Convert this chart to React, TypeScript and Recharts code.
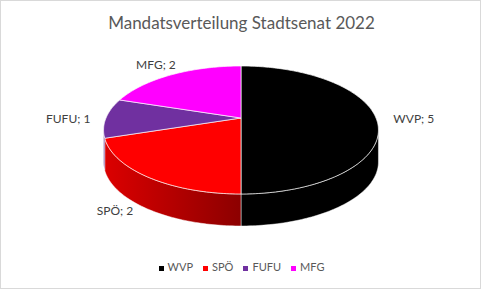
import { PieChart, Pie, Cell, Legend } from 'recharts';

const parties = ['WVP', 'SPÖ', 'FUFU', 'MFG'];
const seats = [5, 2, 1, 2];
const colors = ['#000000', '#ff0000', '#7030a0', '#ff00ff'];

const data = parties.map((name, i) => ({ name, value: seats[i] }));

// fake 3D: the disc is drawn with a simple perspective projection
const RX = 135;
const RY = 61.75;
const PERSP = 0.1875;
const DEPTH = 32;
const SIDE_EDGE = (Math.asin(PERSP) * 180) / Math.PI;
const FONT = 'Lato, "Open Sans", sans-serif';

function project(cx: number, cy: number, deg: number, r = 1, dy = 0): [number, number] {
  const t = (deg * Math.PI) / 180;
  const u = Math.cos(t) * r;
  const v = Math.sin(t) * r;
  const w = 1 + PERSP * v;
  return [cx + (RX * u) / w, cy - (RY * v) / w + dy];
}

function arcPoints(cx: number, cy: number, a: number, b: number, dy = 0) {
  const n = Math.max(2, Math.ceil(Math.abs(b - a)));
  const pts: [number, number][] = [];
  for (let i = 0; i <= n; i++) pts.push(project(cx, cy, a + ((b - a) * i) / n, 1, dy));
  return pts;
}

const toPath = (pts: [number, number][]) =>
  pts.map((p, i) => `${i ? 'L' : 'M'}${p[0].toFixed(2)},${p[1].toFixed(2)}`).join('');

function shade(hex: string, f: number) {
  const n = parseInt(hex.slice(1), 16);
  const c = [(n >> 16) & 255, (n >> 8) & 255, n & 255].map((x) => Math.round(x * f));
  return `rgb(${c.join(',')})`;
}

const renderSlice = (props: any) => {
  const { cx, cy, startAngle, endAngle, midAngle, index } = props;
  const fill = colors[index];
  const lo = Math.min(startAngle, endAngle);
  const hi = Math.max(startAngle, endAngle);

  // visible part of the side wall (front half of the disc)
  const sides: [number, number][] = [];
  for (const k of [-360, 0, 360]) {
    const a = Math.max(lo + k, -180 + SIDE_EDGE);
    const b = Math.min(hi + k, -SIDE_EDGE);
    if (b > a) sides.push([a, b]);
  }
  const gid = `side-grad-${index}`;
  const top = toPath([[cx, cy], ...arcPoints(cx, cy, startAngle, endAngle)]) + 'Z';

  const s = Math.sin((midAngle * Math.PI) / 180);
  const [lx, ly0] = project(cx, cy, midAngle, 1.28);
  const ly = ly0 + (s < 0 ? DEPTH * 0.5 * -s : 0);

  return (
    <g key={`slice-${index}`}>
      <defs>
        <linearGradient id={gid} gradientUnits="userSpaceOnUse" x1={cx - RX} y1={0} x2={cx + RX} y2={0}>
          <stop offset="0%" stopColor={shade(fill, 0.86)} />
          <stop offset="50%" stopColor={shade(fill, 0.55)} />
          <stop offset="100%" stopColor={shade(fill, 0.45)} />
        </linearGradient>
      </defs>
      {sides.map(([a, b], j) => {
        const pts = [...arcPoints(cx, cy, a, b), ...arcPoints(cx, cy, b, a, DEPTH)];
        return (
          <path
            key={j}
            d={toPath(pts) + 'Z'}
            fill={`url(#${gid})`}
            stroke="#ffffff"
            strokeOpacity={0.6}
            strokeWidth={0.8}
          />
        );
      })}
      <path d={top} fill={fill} stroke="#ffffff" strokeOpacity={0.75} strokeWidth={0.9} />
      <text
        x={lx}
        y={ly}
        textAnchor="middle"
        dominantBaseline="central"
        fill="#404040"
        fontSize={12}
        fontFamily={FONT}
      >
        {`${parties[index]}; ${seats[index]}`}
      </text>
    </g>
  );
};

export default function App() {
  return (
    <div
      style={{
        position: 'absolute',
        left: 0,
        top: 0,
        width: 481,
        height: 289,
        boxSizing: 'border-box',
        border: '1px solid #d9d9d9',
        background: '#ffffff',
      }}
    >
      <div
        style={{
          position: 'absolute',
          top: 12,
          left: 0,
          width: 481,
          textAlign: 'center',
          fontFamily: FONT,
          fontSize: 17,
          color: '#595959',
          lineHeight: 1.2,
        }}
      >
        Mandatsverteilung Stadtsenat 2022
      </div>
      <div style={{ position: 'absolute', left: -1, top: -1 }}>
        <PieChart width={481} height={289} margin={{ top: 0, right: 0, bottom: 0, left: 0 }}>
          <Pie
            data={data}
            dataKey="value"
            nameKey="name"
            cx={241}
            cy={118}
            outerRadius={1}
            startAngle={90}
            endAngle={-270}
            label={renderSlice}
            labelLine={false}
            isAnimationActive={false}
          >
            {data.map((d, i) => (
              <Cell key={d.name} fill={colors[i]} stroke="none" />
            ))}
          </Pie>
          <Legend
            verticalAlign="bottom"
            iconType="square"
            iconSize={5}
            itemSorter={(item: any) => parties.indexOf(item.value)}
            formatter={(value: string) => <span style={{ color: '#595959' }}>{value}</span>}
            wrapperStyle={{ top: 260, bottom: 'auto', left: 6, fontFamily: FONT, fontSize: 11 }}
          />
        </PieChart>
      </div>
    </div>
  );
}
